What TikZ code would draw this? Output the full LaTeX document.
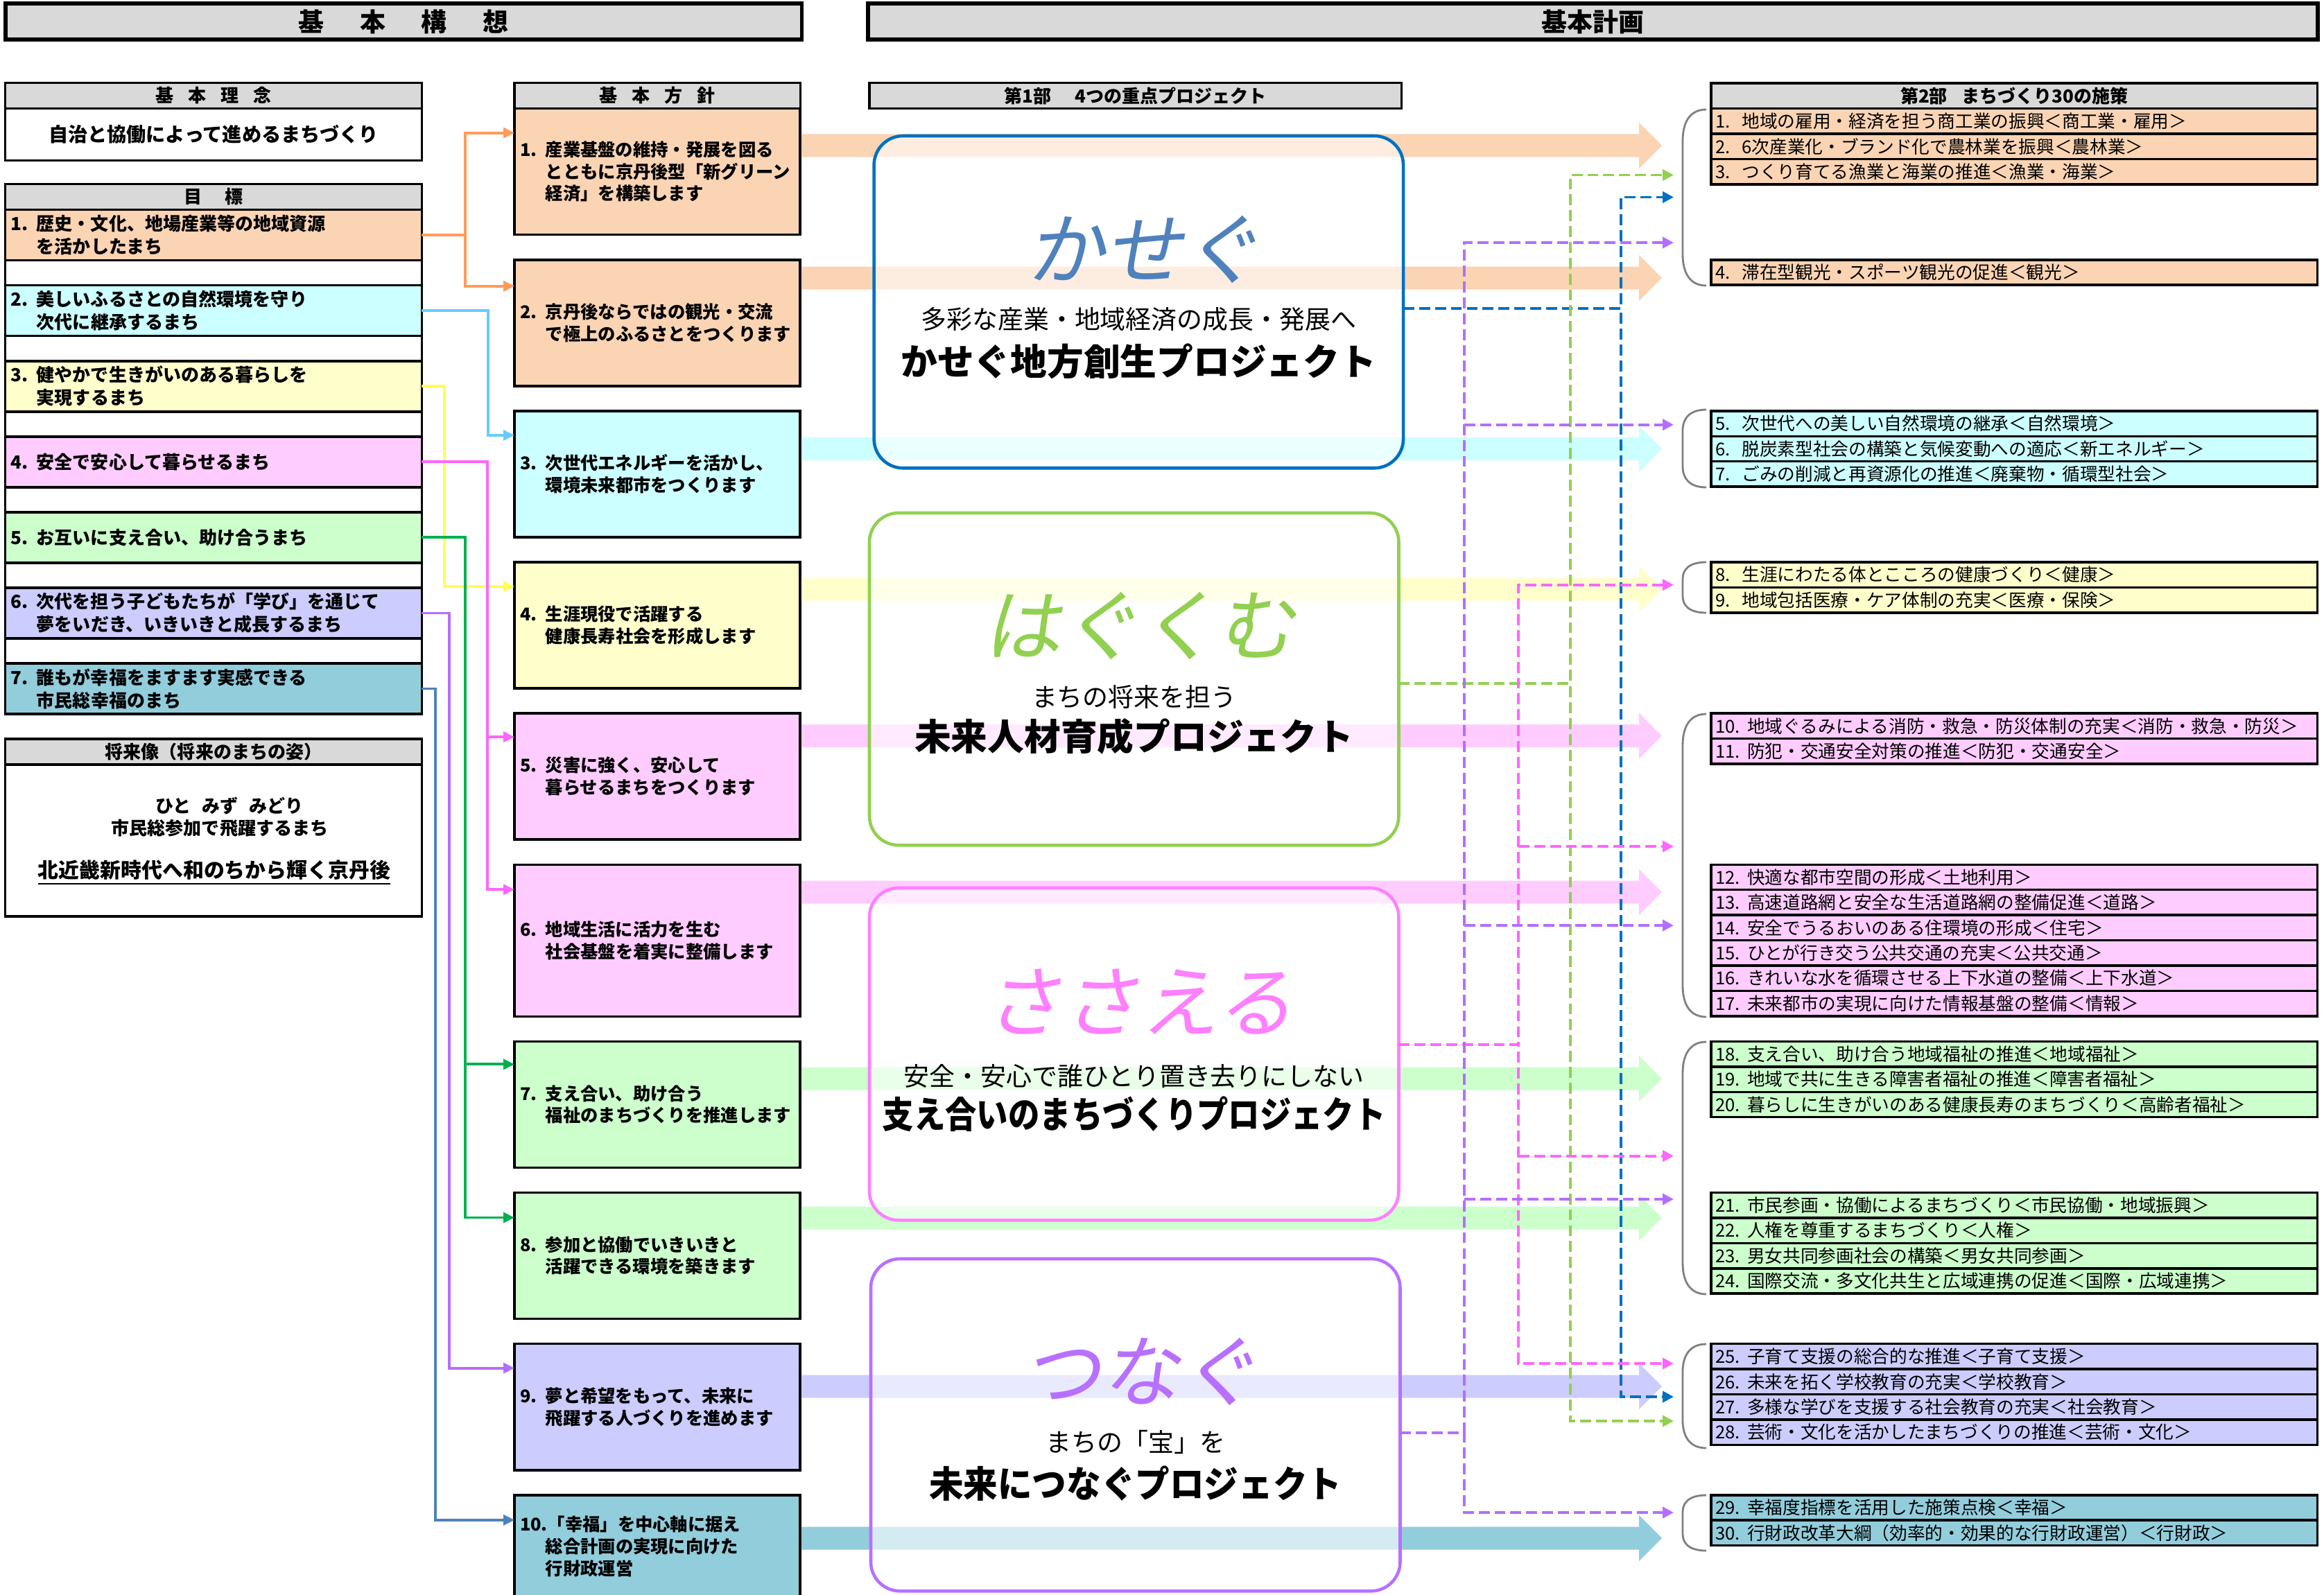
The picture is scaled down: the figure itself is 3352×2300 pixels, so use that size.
\documentclass[tikz,border=0pt]{standalone}
\usepackage{fontspec}
\setmainfont{Noto Sans CJK JP}
\newfontfamily\ttlfont{Noto Sans CJK JP}[FakeSlant=0.18]
\usetikzlibrary{arrows.meta, positioning, calc}
\definecolor{fillorange}{HTML}{FBD4B4}
\definecolor{fillcyan}{HTML}{CCFFFF}
\definecolor{fillyellow}{HTML}{FFFFCC}
\definecolor{fillpink}{HTML}{FFCCFF}
\definecolor{fillgreen}{HTML}{CCFFCC}
\definecolor{filllav}{HTML}{CCCCFF}
\definecolor{fillteal}{HTML}{92CDDC}
\definecolor{headgray}{HTML}{D9D9D9}
\definecolor{lnorange}{HTML}{FF9C5B}
\definecolor{lncyan}{HTML}{66CCFF}
\definecolor{lnyellow}{HTML}{FFFF55}
\definecolor{lnpink}{HTML}{FF66FF}
\definecolor{lngreen}{HTML}{00B050}
\definecolor{lnpurple}{HTML}{B46EFF}
\definecolor{lnblue}{HTML}{4F81BD}
\definecolor{pjblue}{HTML}{0070C0}
\definecolor{pjgreen}{HTML}{92D050}
\definecolor{pjpink}{HTML}{FF80FF}
\definecolor{pjpurple}{HTML}{B870FF}
\definecolor{brakgray}{HTML}{808080}
\newcommand{\gnum}[1]{\makebox[1.45em][l]{#1}}
\newcommand{\gind}{\hspace*{1.45em}}
\newcommand{\rn}[2][1.5em]{\makebox[#1][l]{#2}}
\newcommand{\boxfont}{\fontsize{7.4pt}{9.4pt}\selectfont\bfseries}
\newcommand{\polfont}{\fontsize{7.2pt}{9pt}\selectfont\bfseries}
% wide pastel arrow from a policy box to the measure list
\newcommand{\bandarrow}[3]{%
  \coordinate (bandy) at (2364,#2);
  \fill[#3] ($(#1.east |- bandy)+(1.5,-16.5)$) -- ($(bandy)+(0,-16.5)$) -- ($(bandy)+(0,-33)$)
    -- ($(bandy)+(33,0)$) -- ($(bandy)+(0,33)$) -- ($(bandy)+(0,16.5)$)
    -- ($(#1.east |- bandy)+(1.5,16.5)$) -- cycle;}
% round bracket in front of a group of measures
\newcommand{\grpbrace}[3]{%
  \draw[brak] (2461,#1) .. controls (2436,#1) and (2427,#1+0.45*#3) .. (2427,#1+#3)
    -- (2427,#2-#3) .. controls (2427,#2-0.45*#3) and (2436,#2) .. (2461,#2);}

\begin{document}
\begin{tikzpicture}[
  x=0.01cm, y=-0.01cm,
  bighead/.style={draw=black, line width=1.6pt, fill=headgray, minimum width=#1, minimum height=0.52cm, inner sep=0pt, outer sep=0pt, anchor=north west, font=\fontsize{10.5pt}{12pt}\selectfont\bfseries},
  headbox/.style={draw=black, line width=0.9pt, fill=headgray, minimum width=#1, minimum height=0.37cm, inner sep=0pt, outer sep=0pt, anchor=north west, font=\fontsize{7.4pt}{9pt}\selectfont\bfseries},
  plainbox/.style={draw=black, line width=1pt, fill=white, minimum width=6.003cm, minimum height=#1, inner sep=0pt, outer sep=0pt, anchor=north west},
  goalbox/.style={draw=black, line width=1pt, fill=#1, text width=5.853cm, inner xsep=0.075cm, inner ysep=0pt, minimum height=0.73cm, outer sep=0pt, align=left, font=\boxfont},
  polbox/.style={draw=black, line width=1pt, fill=#1, text width=3.96cm, inner xsep=0.08cm, inner ysep=0pt, minimum height=1.82cm, outer sep=0pt, align=left, font=\polfont},
  rowbox/.style={draw=black, line width=1pt, fill=#1, text width=8.62cm, inner xsep=0.06cm, inner ysep=0pt, minimum height=0.364cm, outer sep=0pt, align=left, font=\fontsize{7.3pt}{8pt}\selectfont},
  projbox/.style={draw=#1, line width=1.3pt, fill=white, fill opacity=0.6, rounded corners=0.42cm, minimum width=7.63cm, minimum height=4.79cm, inner sep=0pt, outer sep=0pt, anchor=north west},
  pjtitle/.style={text=#1, font=\ttlfont\fontsize{32pt}{34pt}\selectfont},
  pjsub/.style={font=\fontsize{10.5pt}{12pt}\selectfont},
  pjname/.style={font=\fontsize{15pt}{17pt}\selectfont\bfseries},
  goallink/.style={draw=#1, line width=1.1pt, -{Triangle[length=4.5pt, width=4.2pt]}},
  dashlink/.style={draw=#1, line width=1.1pt, dash pattern=on 4.5pt off 2pt, -{Triangle[length=4.5pt, width=4.5pt]}},
  brak/.style={draw=brakgray, line width=0.8pt}
]
  \useasboundingbox (0,0) rectangle (3352,2300);

  % Top headers
  \node[bighead=11.48cm] (kousou) at (7.7,5) {基\hspace{1.4em}本\hspace{1.4em}構\hspace{1.4em}想};
  \node[bighead=20.9cm] (keikaku) at (1252,5) {基本計画};

  % Basic idea
  \node[headbox=6.003cm] (rinen) at (7.7,119.6) {基\hspace{0.8em}本\hspace{0.8em}理\hspace{0.8em}念};
  \node[plainbox=0.75cm, below=0pt of rinen, font=\fontsize{8pt}{10pt}\selectfont\bfseries] (rinenbody) {自治と協働によって進めるまちづくり};

  % Goals
  \node[headbox=6.003cm] (mokuhyo) at (7.7,265.6) {目\hspace{1.3em}標};
  \node[goalbox=fillorange, below=0pt of mokuhyo] (g1) {\gnum{1.}歴史・文化、地場産業等の地域資源\\\gind を活かしたまち};
  \node[goalbox=fillcyan, below=0.36cm of g1] (g2) {\gnum{2.}美しいふるさとの自然環境を守り\\\gind 次代に継承するまち};
  \node[goalbox=fillyellow, below=0.36cm of g2] (g3) {\gnum{3.}健やかで生きがいのある暮らしを\\\gind 実現するまち};
  \node[goalbox=fillpink, below=0.36cm of g3] (g4) {\gnum{4.}安全で安心して暮らせるまち};
  \node[goalbox=fillgreen, below=0.36cm of g4] (g5) {\gnum{5.}お互いに支え合い、助け合うまち};
  \node[goalbox=filllav, below=0.36cm of g5] (g6) {\gnum{6.}次代を担う子どもたちが「学び」を通じて\\\gind 夢をいだき、いきいきと成長するまち};
  \node[goalbox=fillteal, below=0.36cm of g6] (g7) {\gnum{7.}誰もが幸福をますます実感できる\\\gind 市民総幸福のまち};
  \draw[line width=1pt] (mokuhyo.south west) rectangle (g7.south east);

  % Future image
  \node[headbox=6.003cm] (shourai) at (7.7,1066) {将来像（将来のまちの姿）};
  \node[plainbox=2.19cm, below=0pt of shourai] (shouraibody) {};
  \node[font=\boxfont] (hito) at (331,1162.5) {ひと\hspace{0.6em}みず\hspace{0.6em}みどり};
  \node[font=\boxfont] (hiyaku) at (317,1194.6) {市民総参加で飛躍するまち};
  \node[font=\fontsize{8.5pt}{10pt}\selectfont\bfseries] (kirameku) at (309,1259) {\underline{北近畿新時代へ和のちから輝く京丹後}};

  % Basic policies
  \node[headbox=4.12cm] (houshin) at (742,119.6) {基\hspace{0.8em}本\hspace{0.8em}方\hspace{0.8em}針};
  \node[polbox=fillorange, below=0pt of houshin] (p1) {\gnum{1.}産業基盤の維持・発展を図る\\\gind とともに京丹後型「新グリーン\\\gind 経済」を構築します};
  \node[polbox=fillorange, below=0.36cm of p1] (p2) {\gnum{2.}京丹後ならではの観光・交流\\\gind で極上のふるさとをつくります};
  \node[polbox=fillcyan, below=0.36cm of p2] (p3) {\gnum{3.}次世代エネルギーを活かし、\\\gind 環境未来都市をつくります};
  \node[polbox=fillyellow, below=0.36cm of p3] (p4) {\gnum{4.}生涯現役で活躍する\\\gind 健康長寿社会を形成します};
  \node[polbox=fillpink, below=0.36cm of p4] (p5) {\gnum{5.}災害に強く、安心して\\\gind 暮らせるまちをつくります};
  \node[polbox=fillpink, below=0.36cm of p5, minimum height=2.19cm] (p6) {\gnum{6.}地域生活に活力を生む\\\gind 社会基盤を着実に整備します};
  \node[polbox=fillgreen, below=0.36cm of p6] (p7) {\gnum{7.}支え合い、助け合う\\\gind 福祉のまちづくりを推進します};
  \node[polbox=fillgreen, below=0.36cm of p7] (p8) {\gnum{8.}参加と協働でいきいきと\\\gind 活躍できる環境を築きます};
  \node[polbox=filllav, below=0.36cm of p8] (p9) {\gnum{9.}夢と希望をもって、未来に\\\gind 飛躍する人づくりを進めます};
  \node[polbox=fillteal, below=0.36cm of p9, minimum height=1.48cm] (p10) {10.「幸福」を中心軸に据え\\\gind 総合計画の実現に向けた\\\gind 行財政運営};

  % Goal to policy links
  \draw[goallink=lnorange] (g1.east) -- ++(63,0) |- ($(p1.north west)+(0,35)$);
  \draw[goallink=lnorange] (g1.east) -- ++(63,0) |- ($(p2.north west)+(0,38)$);
  \draw[goallink=lncyan] (g2.east) -- ++(96,0) |- ($(p3.north west)+(0,35)$);
  \draw[goallink=lnyellow] (g3.east) -- ++(33,0) |- ($(p4.north west)+(0,35)$);
  \draw[goallink=lnpink] (g4.east) -- ++(94.5,0) |- ($(p5.north west)+(0,34)$);
  \draw[goallink=lnpink] (g4.east) -- ++(94.5,0) |- ($(p6.north west)+(0,36)$);
  \draw[goallink=lngreen] (g5.east) -- ++(63,0) |- ($(p7.north west)+(0,33)$);
  \draw[goallink=lngreen] (g5.east) -- ++(63,0) |- ($(p8.north west)+(0,36)$);
  \draw[goallink=lnpurple] (g6.east) -- ++(40,0) |- ($(p9.north west)+(0,35)$);
  \draw[goallink=lnblue] (g7.east) -- ++(19.5,0) |- ($(p10.north west)+(0,36)$);

  % Wide arrows behind the projects
  \bandarrow{p1}{210}{fillorange}
  \bandarrow{p2}{401}{fillorange}
  \bandarrow{p3}{647.5}{fillcyan}
  \bandarrow{p4}{850}{fillyellow}
  \bandarrow{p5}{1061.6}{fillpink}
  \bandarrow{p6}{1287}{fillpink}
  \bandarrow{p7}{1556}{fillgreen}
  \bandarrow{p8}{1757}{fillgreen}
  \bandarrow{p9}{2000}{filllav}
  \bandarrow{p10}{2219}{fillteal}

  % Four key projects
  \node[headbox=7.67cm] (bu1) at (1254,119.6) {第1部\hspace{1.3em}4つの重点プロジェクト};
  \node[projbox=pjblue] (kasegu) at (1260.6,196) {};
  \node[projbox=pjgreen] (hagukumu) at (1254,740) {};
  \node[projbox=pjpink] (sasaeru) at (1254,1281) {};
  \node[projbox=pjpurple] (tsunagu) at (1256,1816) {};

  \node[pjtitle=lnblue] (kaseguttl) at ($(kasegu.north)+(8,164)$) {かせぐ};
  \node[pjsub] (kasegusub) at ($(kasegu.north)+(0,265)$) {多彩な産業・地域経済の成長・発展へ};
  \node[pjname] (kasegunm) at ($(kasegu.north)+(0,325)$) {かせぐ地方創生プロジェクト};

  \node[pjtitle=pjgreen] (hagukumuttl) at ($(hagukumu.north)+(8,163)$) {はぐくむ};
  \node[pjsub] (hagukumusub) at ($(hagukumu.north)+(0,265)$) {まちの将来を担う};
  \node[pjname] (hagukumunm) at ($(hagukumu.north)+(0,322)$) {未来人材育成プロジェクト};

  \node[pjtitle=pjpink] (sasaeruttl) at ($(sasaeru.north)+(8,164)$) {ささえる};
  \node[pjsub] (sasaerusub) at ($(sasaeru.north)+(0,272)$) {安全・安心で誰ひとり置き去りにしない};
  \node[pjname] (sasaerunm) at ($(sasaeru.north)+(0,326)$) {\scalebox{0.86}[1]{支え合いのまちづくりプロジェクト}};

  \node[pjtitle=pjpurple] (tsunaguttl) at ($(tsunagu.north)+(8,163)$) {つなぐ};
  \node[pjsub] (tsunagusub) at ($(tsunagu.north)+(0,264)$) {まちの「宝」を};
  \node[pjname] (tsunagunm) at ($(tsunagu.north)+(0,324)$) {\scalebox{0.94}[1]{未来につなぐプロジェクト}};

  % 30 measures
  \node[headbox=8.74cm] (bu2) at (2468,120) {第2部\hspace{0.8em}まちづくり30の施策};
  \coordinate (rc) at (2468,0);
  \node[rowbox=fillorange, anchor=north west] (r1) at (rc |- p1.north) {\rn{1.}地域の雇用・経済を担う商工業の振興＜商工業・雇用＞};
  \node[rowbox=fillorange, below=0pt of r1] (r2) {\rn{2.}6次産業化・ブランド化で農林業を振興＜農林業＞};
  \node[rowbox=fillorange, below=0pt of r2] (r3) {\rn{3.}つくり育てる漁業と海業の推進＜漁業・海業＞};
  \node[rowbox=fillorange, anchor=north west] (r4) at (rc |- p2.north) {\rn{4.}滞在型観光・スポーツ観光の促進＜観光＞};
  \node[rowbox=fillcyan, anchor=north west] (r5) at (rc |- p3.north) {\rn{5.}次世代への美しい自然環境の継承＜自然環境＞};
  \node[rowbox=fillcyan, below=0pt of r5] (r6) {\rn{6.}脱炭素型社会の構築と気候変動への適応＜新エネルギー＞};
  \node[rowbox=fillcyan, below=0pt of r6] (r7) {\rn{7.}ごみの削減と再資源化の推進＜廃棄物・循環型社会＞};
  \node[rowbox=fillyellow, anchor=north west] (r8) at (rc |- p4.north) {\rn{8.}生涯にわたる体とこころの健康づくり＜健康＞};
  \node[rowbox=fillyellow, below=0pt of r8] (r9) {\rn{9.}地域包括医療・ケア体制の充実＜医療・保険＞};
  \node[rowbox=fillpink, anchor=north west] (r10) at (rc |- p5.north) {\rn[1.8em]{10.}地域ぐるみによる消防・救急・防災体制の充実＜消防・救急・防災＞};
  \node[rowbox=fillpink, below=0pt of r10] (r11) {\rn[1.8em]{11.}防犯・交通安全対策の推進＜防犯・交通安全＞};
  \node[rowbox=fillpink, anchor=north west] (r12) at (rc |- p6.north) {\rn[1.8em]{12.}快適な都市空間の形成＜土地利用＞};
  \node[rowbox=fillpink, below=0pt of r12] (r13) {\rn[1.8em]{13.}高速道路網と安全な生活道路網の整備促進＜道路＞};
  \node[rowbox=fillpink, below=0pt of r13] (r14) {\rn[1.8em]{14.}安全でうるおいのある住環境の形成＜住宅＞};
  \node[rowbox=fillpink, below=0pt of r14] (r15) {\rn[1.8em]{15.}ひとが行き交う公共交通の充実＜公共交通＞};
  \node[rowbox=fillpink, below=0pt of r15] (r16) {\rn[1.8em]{16.}きれいな水を循環させる上下水道の整備＜上下水道＞};
  \node[rowbox=fillpink, below=0pt of r16] (r17) {\rn[1.8em]{17.}未来都市の実現に向けた情報基盤の整備＜情報＞};
  \node[rowbox=fillgreen, anchor=north west] (r18) at (rc |- p7.north) {\rn[1.8em]{18.}支え合い、助け合う地域福祉の推進＜地域福祉＞};
  \node[rowbox=fillgreen, below=0pt of r18] (r19) {\rn[1.8em]{19.}地域で共に生きる障害者福祉の推進＜障害者福祉＞};
  \node[rowbox=fillgreen, below=0pt of r19] (r20) {\rn[1.8em]{20.}暮らしに生きがいのある健康長寿のまちづくり＜高齢者福祉＞};
  \node[rowbox=fillgreen, anchor=north west] (r21) at (rc |- p8.north) {\rn[1.8em]{21.}市民参画・協働によるまちづくり＜市民協働・地域振興＞};
  \node[rowbox=fillgreen, below=0pt of r21] (r22) {\rn[1.8em]{22.}人権を尊重するまちづくり＜人権＞};
  \node[rowbox=fillgreen, below=0pt of r22] (r23) {\rn[1.8em]{23.}男女共同参画社会の構築＜男女共同参画＞};
  \node[rowbox=fillgreen, below=0pt of r23] (r24) {\rn[1.8em]{24.}国際交流・多文化共生と広域連携の促進＜国際・広域連携＞};
  \node[rowbox=filllav, anchor=north west] (r25) at (rc |- p9.north) {\rn[1.8em]{25.}子育て支援の総合的な推進＜子育て支援＞};
  \node[rowbox=filllav, below=0pt of r25] (r26) {\rn[1.8em]{26.}未来を拓く学校教育の充実＜学校教育＞};
  \node[rowbox=filllav, below=0pt of r26] (r27) {\rn[1.8em]{27.}多様な学びを支援する社会教育の充実＜社会教育＞};
  \node[rowbox=filllav, below=0pt of r27] (r28) {\rn[1.8em]{28.}芸術・文化を活かしたまちづくりの推進＜芸術・文化＞};
  \node[rowbox=fillteal, anchor=north west] (r29) at (rc |- p10.north) {\rn[1.8em]{29.}幸福度指標を活用した施策点検＜幸福＞};
  \node[rowbox=fillteal, below=0pt of r29] (r30) {\rn[1.8em]{30.}行財政改革大綱（効率的・効果的な行財政運営）＜行財政＞};

  % Brackets
  \grpbrace{158}{412}{45}
  \grpbrace{591}{703}{30}
  \grpbrace{811}{884}{24}
  \grpbrace{1030}{1467}{45}
  \grpbrace{1503}{1867}{45}
  \grpbrace{1939}{2089}{40}
  \grpbrace{2157}{2237}{24}

  % Project to measure links
  \coordinate (busv) at (2112,0);
  \coordinate (busp) at (2190,0);
  \coordinate (busg) at (2264.7,0);
  \coordinate (busb) at (2338,0);
  \coordinate (tb1) at (2414,284.5);
  \coordinate (tb2) at (2414,2015);
  \coordinate (tg1) at (2414,252.5);
  \coordinate (tg2) at (2414,2050);
  \coordinate (tp1) at (2414,843.7);
  \coordinate (tp2) at (2414,1221);
  \coordinate (tp3) at (2414,1667.6);
  \coordinate (tp4) at (2414,1967);
  \coordinate (tv1) at (2414,350);
  \coordinate (tv2) at (2414,612.7);
  \coordinate (tv3) at (2414,1335);
  \coordinate (tv4) at (2414,1730);
  \coordinate (tv5) at (2414,2182);

  \draw[dashlink=pjblue] ($(kasegu.east)+(0,9.5)$) -| (busb |- tb1) -- (tb1);
  \draw[dashlink=pjblue] ($(kasegu.east)+(0,9.5)$) -| (busb |- tb2) -- (tb2);
  \draw[dashlink=pjgreen] ($(hagukumu.east)+(0,6.5)$) -| (busg |- tg1) -- (tg1);
  \draw[dashlink=pjgreen] ($(hagukumu.east)+(0,6.5)$) -| (busg |- tg2) -- (tg2);
  \draw[dashlink=lnpink] ($(sasaeru.east)+(0,-14)$) -| (busp |- tp1) -- (tp1);
  \draw[dashlink=lnpink] ($(sasaeru.east)+(0,-14)$) -| (busp |- tp4) -- (tp4);
  \draw[dashlink=lnpink] (busp |- tp2) -- (tp2);
  \draw[dashlink=lnpink] (busp |- tp3) -- (tp3);
  \draw[dashlink=lnpurple] ($(tsunagu.east)+(0,11)$) -| (busv |- tv1) -- (tv1);
  \draw[dashlink=lnpurple] ($(tsunagu.east)+(0,11)$) -| (busv |- tv5) -- (tv5);
  \draw[dashlink=lnpurple] (busv |- tv2) -- (tv2);
  \draw[dashlink=lnpurple] (busv |- tv3) -- (tv3);
  \draw[dashlink=lnpurple] (busv |- tv4) -- (tv4);
\end{tikzpicture}
\end{document}
